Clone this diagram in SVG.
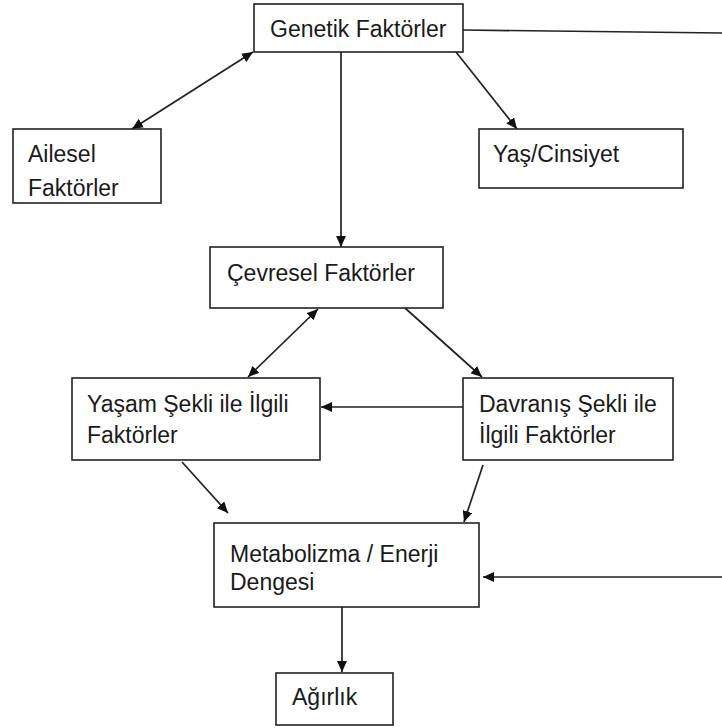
<svg xmlns="http://www.w3.org/2000/svg" width="722" height="728" viewBox="0 0 722 728">
<style>
.box{fill:#fff;stroke:#222;stroke-width:1.6}
.lbl{font-family:"Liberation Sans",Arial,sans-serif;font-size:23px;fill:#1a1a1a}
.con{stroke:#222;stroke-width:1.7;fill:none}
.arr{marker-end:url(#ah)}
.both{marker-end:url(#ah);marker-start:url(#ah)}
</style>
<defs>
<marker id="ah" viewBox="0 0 10 9" refX="10" refY="4.5" markerWidth="11" markerHeight="10" markerUnits="userSpaceOnUse" orient="auto-start-reverse">
<path d="M0,0 L10,4.5 L0,9 z" fill="#111"/>
</marker>
</defs>
<rect width="722" height="728" fill="#fff"/>
<g id="connectors">
<line class="con" x1="463" y1="30" x2="722" y2="33"/>
<line class="con arr" x1="722" y1="577" x2="483" y2="577"/>
<line class="con both" x1="132" y1="129" x2="253" y2="52"/>
<line class="con arr" x1="456" y1="52" x2="517" y2="129"/>
<line class="con arr" x1="341" y1="52" x2="341" y2="247"/>
<line class="con both" x1="318" y1="309" x2="248" y2="377"/>
<line class="con arr" x1="405" y1="308" x2="482" y2="377"/>
<line class="con arr" x1="463" y1="407" x2="321" y2="407"/>
<line class="con arr" x1="182" y1="462" x2="228" y2="513"/>
<line class="con arr" x1="483" y1="465" x2="464" y2="522"/>
<line class="con arr" x1="342" y1="607" x2="342" y2="672"/>
</g>
<g id="genetik">
<rect class="box" x="254" y="4" width="209" height="48"/>
<text class="lbl" x="270" y="37">Genetik Faktörler</text>
</g>
<g id="ailesel">
<rect class="box" x="13" y="129" width="148" height="74"/>
<text class="lbl" x="28" y="162">Ailesel</text>
<text class="lbl" x="28" y="196">Faktörler</text>
</g>
<g id="yas">
<rect class="box" x="479" y="129" width="204" height="59"/>
<text class="lbl" x="493" y="162">Yaş/Cinsiyet</text>
</g>
<g id="cevresel">
<rect class="box" x="210" y="247" width="233" height="61"/>
<text class="lbl" x="227" y="281">Çevresel Faktörler</text>
</g>
<g id="yasam">
<rect class="box" x="72" y="378" width="248" height="82"/>
<text class="lbl" x="87" y="412">Yaşam Şekli ile İlgili</text>
<text class="lbl" x="87" y="443">Faktörler</text>
</g>
<g id="davranis">
<rect class="box" x="463" y="378" width="210" height="82"/>
<text class="lbl" x="479" y="412">Davranış Şekli ile</text>
<text class="lbl" x="479" y="443">İlgili Faktörler</text>
</g>
<g id="metabolizma">
<rect class="box" x="214" y="523" width="265" height="84"/>
<text class="lbl" x="230" y="562">Metabolizma / Enerji</text>
<text class="lbl" x="230" y="590">Dengesi</text>
</g>
<g id="agirlik">
<rect class="box" x="276" y="673" width="117" height="52"/>
<text class="lbl" x="292" y="705">Ağırlık</text>
</g>
</svg>
